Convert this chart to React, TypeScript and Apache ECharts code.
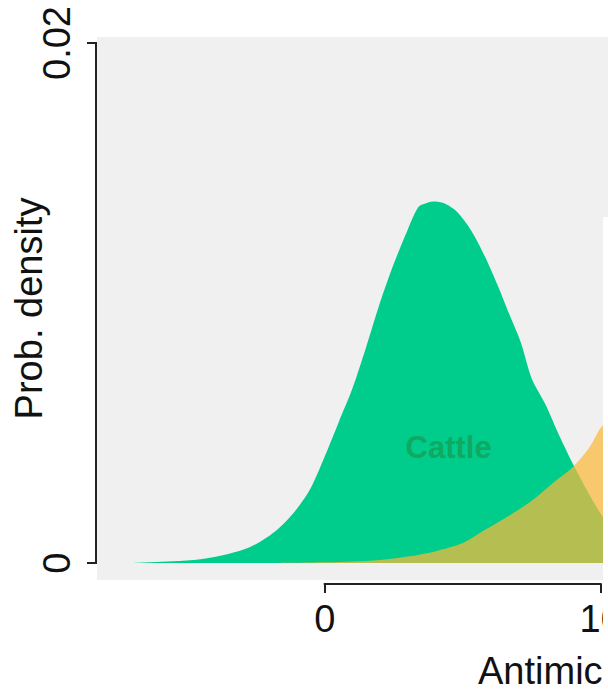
import { useEffect, useRef } from "react";
import * as echarts from "echarts";

// Cattle density (green)
const cattleX = [-7.0, -6.3, -5.5, -4.5, -3.5, -2.7, -2.0, -1.5, -1.0, -0.5, 0.0, 0.5, 1.0, 1.5, 2.0, 2.5, 3.0, 3.4, 3.7, 4.0, 4.4, 4.8, 5.3, 5.8, 6.3, 6.6, 7.1, 7.5, 8.0, 8.5, 9.0, 9.5, 10.0, 10.5, 11.0, 12.0];
const cattleY = [0, 0.00003, 0.00007, 0.00015, 0.00035, 0.00062, 0.00105, 0.0015, 0.0021, 0.0029, 0.0041, 0.0054, 0.0067, 0.0083, 0.0100, 0.0115, 0.0128, 0.0137, 0.01385, 0.0139, 0.0138, 0.0135, 0.0128, 0.0118, 0.0106, 0.0098, 0.0085, 0.0071, 0.0061, 0.0049, 0.0038, 0.0028, 0.0019, 0.0012, 0.0007, 0.0002];

// Second group density (orange)
const otherX = [-2.0, 0.0, 1.0, 2.0, 3.0, 4.0, 5.0, 5.6, 6.6, 7.5, 8.4, 9.0, 9.6, 10.0, 10.5, 11.0, 12.0];
const otherY = [0, 0.00003, 0.00006, 0.00012, 0.00025, 0.00045, 0.00077, 0.00115, 0.00177, 0.0024, 0.0032, 0.0037, 0.00446, 0.0052, 0.0058, 0.0065, 0.0075];

const seriesNames = ["Cattle", "Other"];
const cattleLabelAt = [4.49, 0.00446];

const yTicks = [0, 0.02];
const yTickLabels = ["0", "0.02"];
const xTicks = [0, 10];
const xTickLabels = ["0", "10"];
const yTitle = "Prob. density";
const xTitle = "Antimic";

const FONT = 'Arial, "Liberation Sans", sans-serif';

export default function App() {
  const ref = useRef<HTMLDivElement>(null);
  useEffect(() => {
    if (!ref.current) return;
    const chart = echarts.init(ref.current, undefined, { renderer: "svg" });
    const gridLeft = 97;
    const gridTop = 37;
    chart.setOption({
      animation: false,
      backgroundColor: "#ffffff",
      grid: {
        left: gridLeft,
        top: gridTop,
        width: 600.3,
        height: 543,
        show: true,
        backgroundColor: "#f0f0f0",
        borderWidth: 0,
        containLabel: false,
        outerBoundsMode: "none",
      },
      xAxis: {
        type: "value",
        min: -8.25,
        max: 13.5,
        offset: 4,
        axisLine: { show: false, onZero: false },
        splitLine: { show: false },
        axisTick: {
          show: true,
          customValues: xTicks,
          length: 9,
          lineStyle: { color: "#222", width: 2 },
        },
        axisLabel: {
          customValues: xTicks,
          formatter: (v: number) => xTickLabels[xTicks.indexOf(v)] ?? "",
          fontSize: 38,
          fontFamily: FONT,
          color: "#111",
          margin: 16,
        },
      },
      yAxis: {
        type: "value",
        min: -0.00065,
        max: 0.02023,
        offset: 1,
        name: yTitle,
        nameLocation: "middle",
        nameRotate: 90,
        nameGap: 48,
        nameMoveOverlap: false,
        nameTextStyle: { fontSize: 38, fontFamily: FONT, color: "#111" },
        axisLine: { show: false, onZero: false },
        splitLine: { show: false },
        axisTick: {
          show: true,
          customValues: yTicks,
          length: 9,
          lineStyle: { color: "#222", width: 2 },
        },
        axisLabel: {
          customValues: yTicks,
          formatter: (v: number) => {
            const i = yTicks.findIndex((t) => Math.abs(t - v) < 1e-9);
            return i >= 0 ? yTickLabels[i] : "";
          },
          rotate: 90,
          fontSize: 38,
          fontFamily: FONT,
          color: "#111",
          margin: 20,
        },
      },
      series: [
        {
          name: seriesNames[0],
          type: "line",
          smooth: 0.3,
          symbol: "none",
          lineStyle: { width: 0 },
          areaStyle: { color: "#00cc8c", opacity: 1 },
          data: cattleX.map((x, i) => [x, cattleY[i]]),
          z: 2,
        },
        {
          name: seriesNames[1],
          type: "line",
          smooth: 0.3,
          symbol: "none",
          lineStyle: { width: 0 },
          areaStyle: { color: "rgb(251,184,57)", opacity: 0.72 },
          data: otherX.map((x, i) => [x, otherY[i]]),
          z: 3,
        },
        {
          type: "scatter",
          symbolSize: 0,
          data: [cattleLabelAt],
          z: 4,
          label: {
            show: true,
            position: "inside",
            formatter: seriesNames[0],
            fontSize: 31,
            fontWeight: "bold",
            fontFamily: FONT,
            color: "#17a055",
          },
        },
      ],
    });

    const p = (x: number, y: number) =>
      chart.convertToPixel({ gridIndex: 0 }, [x, y]) as number[];
    const yTop = p(0, yTicks[1])[1];
    const yBot = p(0, yTicks[0])[1];
    const x0 = p(xTicks[0], 0)[0];
    const x1 = p(xTicks[1], 0)[0];
    const gridBottom = p(0, -0.00065)[1];
    const gridL = p(-8.25, 0)[0];

    chart.setOption({
      graphic: [
        {
          type: "line",
          shape: { x1: gridL - 1, y1: yTop - 1, x2: gridL - 1, y2: yBot + 1 },
          style: { stroke: "#222", lineWidth: 2 },
          z: 10,
        },
        {
          type: "line",
          shape: { x1: x0 - 1, y1: gridBottom + 4, x2: x1 + 1, y2: gridBottom + 4 },
          style: { stroke: "#222", lineWidth: 2 },
          z: 10,
        },
        {
          type: "text",
          x: 478,
          y: 652,
          style: {
            text: xTitle,
            fontSize: 38,
            fontFamily: FONT,
            fill: "#111",
          },
          z: 10,
        },
        {
          type: "rect",
          shape: { x: 603, y: 217, width: 200, height: 500 },
          style: { fill: "#ffffff" },
          z: 20,
        },
      ],
    });

    return () => chart.dispose();
  }, []);

  return (
    <div
      style={{
        position: "absolute",
        left: 0,
        top: 0,
        width: 608,
        height: 696,
        overflow: "hidden",
        background: "#fff",
      }}
    >
      <div ref={ref} style={{ width: 800, height: 696 }} />
    </div>
  );
}
